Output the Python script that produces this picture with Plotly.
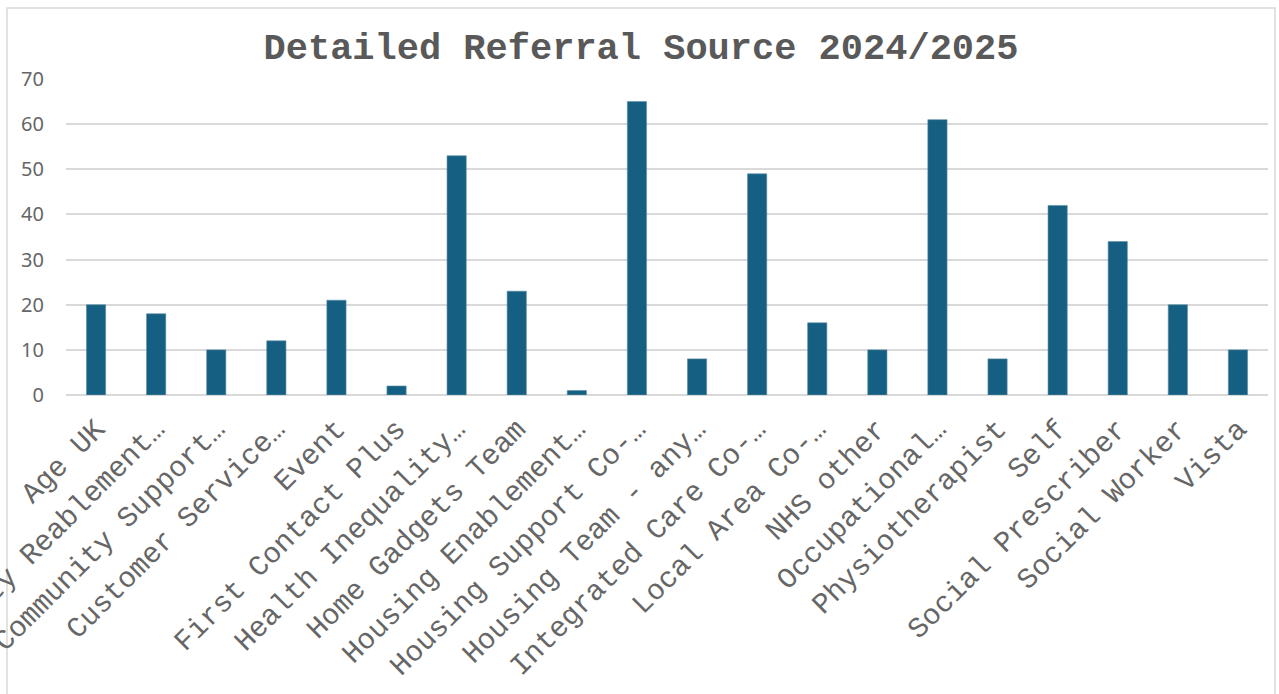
import plotly.graph_objects as go

# Referral sources and counts for the year
sources = [
    "Age UK", "Community Reablement…", "Community Support…", "Customer Service…",
    "Event", "First Contact Plus", "Health Inequality…", "Home Gadgets Team",
    "Housing Enablement…", "Housing Support Co-…", "Housing Team - any…",
    "Integrated Care Co-…", "Local Area Co-…", "NHS other", "Occupational…",
    "Physiotherapist", "Self", "Social Prescriber", "Social Worker", "Vista",
]
referrals = [20, 18, 10, 12, 21, 2, 53, 23, 1, 65, 8, 49, 16, 10, 61, 8, 42, 34, 20, 10]
y_ticks = [0, 10, 20, 30, 40, 50, 60, 70]

GREY = "#595959"
BAR = "#156082"

fig = go.Figure(
    go.Bar(
        x=sources,
        y=referrals,
        marker=dict(color=BAR, line=dict(color="#5E8EA8", width=0.6)),
        hoverinfo="x+y",
    )
)

W, H = 1279, 694
m_l, m_r, m_t, m_b = 66, 11, 79, 299
pw, ph = W - m_l - m_r, H - m_t - m_b

fig.update_layout(
    width=W,
    height=H,
    margin=dict(l=m_l, r=m_r, t=m_t, b=m_b, autoexpand=False),
    paper_bgcolor="white",
    plot_bgcolor="white",
    bargap=0.68,
    showlegend=False,
    title=dict(
        text="<b>Detailed Referral Source 2024/2025</b>",
        x=(641 - m_l) / pw,
        xref="paper",
        xanchor="center",
        y=1 - 46 / H,
        yref="container",
        yanchor="middle",
        font=dict(family="Liberation Mono, Courier New, monospace", size=37, color=GREY),
    ),
    xaxis=dict(
        type="category",
        tickangle=-45,
        tickfont=dict(family="Liberation Mono, Courier New, monospace", size=29, color="#666666"),
        showgrid=False,
        showline=False,
        ticks="",
        ticklabelstandoff=10,
        automargin=False,
    ),
    yaxis=dict(
        range=[0, 70],
        tickvals=y_ticks,
        tickfont=dict(family="Noto Sans, Open Sans, sans-serif", size=20, color="#666666"),
        showgrid=True,
        gridcolor="#D9D9D9",
        gridwidth=1.5,
        zeroline=True,
        zerolinecolor="#D9D9D9",
        zerolinewidth=1.5,
        showline=False,
        ticks="",
        ticklabelstandoff=21,
        automargin=False,
    ),
    shapes=[
        # chart frame
        dict(
            type="rect",
            xref="paper",
            yref="paper",
            x0=(7 - m_l) / pw,
            x1=(1275 - m_l) / pw,
            y0=(H - m_b - 720) / ph,
            y1=(H - m_b - 8) / ph,
            line=dict(color="#D9D9D9", width=1.5),
            fillcolor="rgba(0,0,0,0)",
            layer="below",
        )
    ],
)

fig.write_html("out.html")
